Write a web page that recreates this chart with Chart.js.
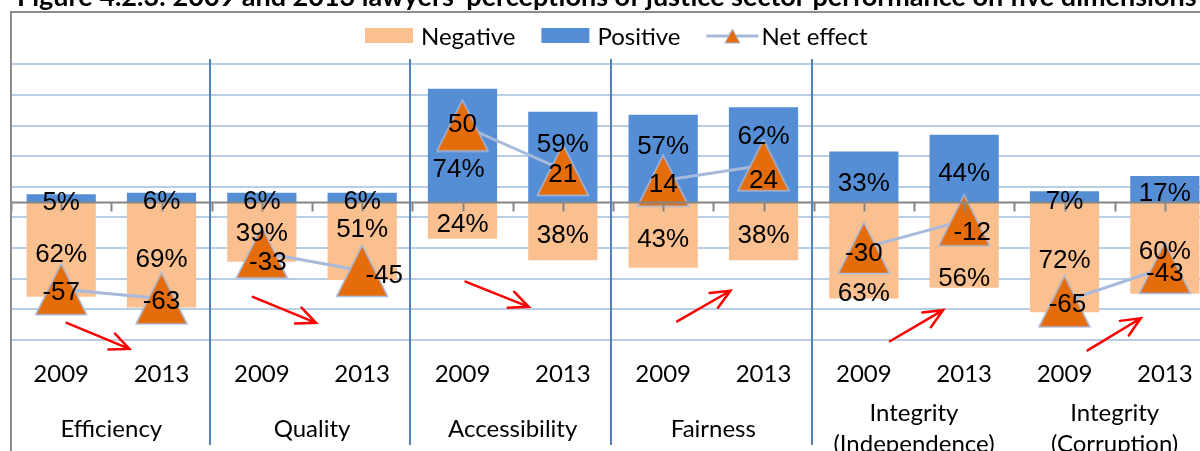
<!DOCTYPE html>
<html>
<head>
<meta charset="utf-8">
<title>Lawyers' perceptions of justice sector performance</title>
<script src="https://cdn.jsdelivr.net/npm/chart.js@4.4.1/dist/chart.umd.min.js"></script>
<style>
  html, body { margin: 0; padding: 0; overflow: hidden; background: #fff; }
  #wrap { position: relative; width: 1215px; height: 451px; }
</style>
</head>
<body>
<div id="wrap"><canvas id="perceptionChart" width="1215" height="451"></canvas></div>
<script>
// ---- chart data ----
const titleText = 'Figure 4.2.3: 2009 and 2013 lawyers\u2019 perceptions of justice sector performance on five dimensions';
const years = ['2009', '2013', '2009', '2013', '2009', '2013', '2009', '2013', '2009', '2013', '2009', '2013'];
const dimensions = [['Efficiency'], ['Quality'], ['Accessibility'], ['Fairness'], ['Integrity', '(Independence)'], ['Integrity', '(Corruption)']];
const negative = [62, 69, 39, 51, 24, 38, 43, 38, 63, 56, 72, 60];
const positive = [5, 6, 6, 6, 74, 59, 57, 62, 33, 44, 7, 17];
const netEffect = [-57, -63, -33, -45, 50, 21, 14, 24, -30, -12, -65, -43];
const gridTicks = [-90, -70, -50, -30, -10, 10, 30, 50, 70, 90];
// hand drawn trend arrows, in (category index, value) units
const trendArrows = [
  { from: [0.055, -79], to: [0.68, -96] },
  { from: [1.91, -62], to: [2.54, -79] },
  { from: [4.03, -52], to: [4.66, -68.5] },
  { from: [6.14, -78], to: [6.67, -58] },
  { from: [8.26, -91], to: [8.79, -70.7] },
  { from: [10.23, -97], to: [10.76, -76] }
];

// ---- label nudges (px), the original labels were moved by hand ----
const posNudge = [[0, 3], [0, 2], [0, 2], [0, 2], [-4, 22], [0, -14], [0, -14], [0, -20], [0, 5], [0, 3], [0, 3], [0, 3]];
const negNudge = [[0, 3], [0, 3], [0, 0], [0, -13], [0, 2], [0, 3], [0, 3], [0, 3], [0, 42], [0, 32], [0, 2], [0, 2]];
const netNudge = [[0, 1], [0, 1], [6, 8], [22, 3], [0, -3], [0, 3], [0, 2], [0, 13], [0, 4], [8, 10], [3, 1], [0, 4]];

const PEACH = '#FAC090';
const BLUE = '#558ED5';
const ORANGE = '#E46C0A';
const LINE = '#A7BADC';
const TEXT_FONT = 'Lato, "Open Sans", sans-serif';
const LABEL_FONT = '"Liberation Sans", Arial, sans-serif';

// triangle marker, bounding box centred on the point like Excel does
function makeTriangle(w, h, lw) {
  const c = document.createElement('canvas');
  c.width = w; c.height = h;
  const g = c.getContext('2d');
  g.beginPath();
  g.moveTo(w / 2, lw);
  g.lineTo(w - lw, h - lw);
  g.lineTo(lw, h - lw);
  g.closePath();
  g.fillStyle = ORANGE;
  g.fill();
  g.lineWidth = lw;
  g.strokeStyle = LINE;
  g.stroke();
  return c;
}
const triangleBig = makeTriangle(54, 54, 1.5);
const triangleSmall = makeTriangle(17, 16, 1);

function drawArrow(ctx, x1, y1, x2, y2) {
  const ang = Math.atan2(y2 - y1, x2 - x1);
  const len = 21, spread = 0.42;
  ctx.beginPath();
  ctx.moveTo(x1, y1);
  ctx.lineTo(x2, y2);
  ctx.moveTo(x2 - len * Math.cos(ang - spread), y2 - len * Math.sin(ang - spread));
  ctx.lineTo(x2, y2);
  ctx.lineTo(x2 - len * Math.cos(ang + spread), y2 - len * Math.sin(ang + spread));
  ctx.stroke();
}

const overlay = {
  id: 'overlay',
  afterDatasetsDraw(chart) {
    const { ctx, chartArea: area, scales: { x, y } } = chart;
    const zero = Math.round(y.getPixelForValue(0)) + 0.5;
    ctx.save();

    // category axis on the zero line, with tick marks
    ctx.strokeStyle = '#868686';
    ctx.lineWidth = 2;
    ctx.beginPath();
    ctx.moveTo(area.left, zero);
    ctx.lineTo(area.right, zero);
    for (let i = -0.5; i <= years.length - 0.5; i += 0.5) {
      const px = Math.round(x.getPixelForValue(i)) + 0.5;
      ctx.moveTo(px, zero);
      ctx.lineTo(px, zero + 9);
    }
    ctx.stroke();

    // separators between dimensions
    ctx.strokeStyle = '#4F81BD';
    ctx.lineWidth = 2;
    ctx.beginPath();
    [1.5, 3.5, 5.5, 7.5].forEach(i => {
      const px = Math.round(x.getPixelForValue(i)) - 2;
      ctx.moveTo(px, area.top + 10);
      ctx.lineTo(px, area.bottom + 90);
    });
    ctx.stroke();

    // red trend arrows
    ctx.strokeStyle = '#FF0000';
    ctx.lineWidth = 2.5;
    ctx.lineCap = 'round';
    trendArrows.forEach(a => {
      drawArrow(ctx,
        x.getPixelForValue(a.from[0]), y.getPixelForValue(a.from[1]),
        x.getPixelForValue(a.to[0]), y.getPixelForValue(a.to[1]));
    });

    // data labels
    ctx.fillStyle = '#000';
    ctx.font = '26px ' + LABEL_FONT;
    ctx.textAlign = 'center';
    ctx.textBaseline = 'alphabetic';
    const lift = 9.3;
    const negMeta = chart.getDatasetMeta(0);
    const posMeta = chart.getDatasetMeta(1);
    const netMeta = chart.getDatasetMeta(2);
    negMeta.data.forEach((bar, i) => {
      const cy = (bar.y + bar.base) / 2;
      ctx.fillText(negative[i] + '%', bar.x + negNudge[i][0], cy + negNudge[i][1] + lift);
    });
    posMeta.data.forEach((bar, i) => {
      const cy = (bar.y + bar.base) / 2;
      ctx.fillText(positive[i] + '%', bar.x + posNudge[i][0], cy + posNudge[i][1] + lift);
    });
    netMeta.data.forEach((pt, i) => {
      ctx.fillText(String(netEffect[i]), pt.x + netNudge[i][0], pt.y + netNudge[i][1] + lift);
    });
    ctx.restore();
  },
  afterDraw(chart) {
    const { ctx, chartArea: area, scales: { x } } = chart;
    ctx.save();

    // chart frame (only top and left edges are inside the crop)
    ctx.strokeStyle = '#8C8C8C';
    ctx.lineWidth = 2;
    ctx.beginPath();
    ctx.moveTo(area.left, chart.height);
    ctx.lineTo(area.left, 12);
    ctx.lineTo(chart.width, 12);
    ctx.stroke();

    // title, cut off by the top of the picture
    ctx.fillStyle = '#000';
    ctx.font = 'bold 27px ' + TEXT_FONT;
    ctx.textAlign = 'left';
    ctx.textBaseline = 'alphabetic';
    ctx.fillText(titleText, 17, 6);

    // dimension labels under the year labels
    ctx.font = '24px ' + TEXT_FONT;
    ctx.textAlign = 'center';
    ctx.textBaseline = 'middle';
    dimensions.forEach((lines, g) => {
      const cx = (x.getPixelForValue(2 * g) + x.getPixelForValue(2 * g + 1)) / 2;
      const lh = 31;
      const y0 = 429 - (lines.length - 1) * lh / 2;
      lines.forEach((t, k) => ctx.fillText(t, cx, y0 + k * lh));
    });

    // legend
    let lx = 365;
    const ly = 36;
    ctx.font = '24px ' + TEXT_FONT;
    ctx.textAlign = 'left';
    chart.data.datasets.forEach(ds => {
      if (ds.type === 'line') {
        ctx.strokeStyle = LINE;
        ctx.lineWidth = 3;
        ctx.beginPath();
        ctx.moveTo(lx, ly);
        ctx.lineTo(lx + 52, ly);
        ctx.stroke();
        ctx.drawImage(triangleSmall, lx + 26 - 8.5, ly - 8);
        lx += 55;
      } else {
        ctx.fillStyle = ds.backgroundColor;
        ctx.fillRect(lx, ly - 8, 48, 15);
        lx += 56;
      }
      ctx.fillStyle = '#000';
      ctx.fillText(ds.label, lx, ly + 1);
      lx += ctx.measureText(ds.label).width + 26;
    });
    ctx.restore();
  }
};

const ctx = document.getElementById('perceptionChart').getContext('2d');
const perceptionChart = new Chart(ctx, {
  type: 'bar',
  data: {
    labels: years,
    datasets: [
      {
        label: 'Negative',
        data: negative.map(v => -v),
        backgroundColor: PEACH,
        order: 2
      },
      {
        label: 'Positive',
        data: positive,
        backgroundColor: BLUE,
        order: 2
      },
      {
        type: 'line',
        label: 'Net effect',
        data: netEffect,
        yAxisID: 'y2',
        borderColor: LINE,
        borderWidth: 3,
        pointStyle: triangleBig,
        pointRadius: 26,
        tension: 0,
        clip: false,
        order: 1,
        // only join 2009 and 2013 inside each dimension
        segment: {
          borderColor: c => (c.p0DataIndex % 2 === 1 ? 'rgba(0,0,0,0)' : LINE)
        }
      }
    ]
  },
  options: {
    responsive: false,
    animation: false,
    events: [],
    layout: { autoPadding: false, padding: { left: 11, top: 49, right: 0, bottom: 0 } },
    datasets: {
      bar: { categoryPercentage: 0.69, barPercentage: 1.0 }
    },
    plugins: {
      legend: { display: false },
      title: { display: false },
      tooltip: { enabled: false }
    },
    scales: {
      x: {
        stacked: true,
        grid: { display: false, drawTicks: false },
        border: { display: false },
        ticks: {
          color: '#000',
          font: { family: TEXT_FONT, size: 24 },
          padding: 5,
          maxRotation: 0,
          autoSkip: false
        },
        afterFit: s => { s.height = 96; }
      },
      y: {
        stacked: true,
        min: -100,
        max: 100,
        afterBuildTicks: s => { s.ticks = gridTicks.map(v => ({ value: v })); },
        grid: { color: '#B9CDE5', lineWidth: 2, drawTicks: false },
        border: { display: false },
        ticks: { display: false },
        afterFit: s => { s.width = 0; }
      },
      y2: {
        display: false,
        min: -100,
        max: 100
      }
    }
  },
  plugins: [overlay]
});
</script>
</body>
</html>
